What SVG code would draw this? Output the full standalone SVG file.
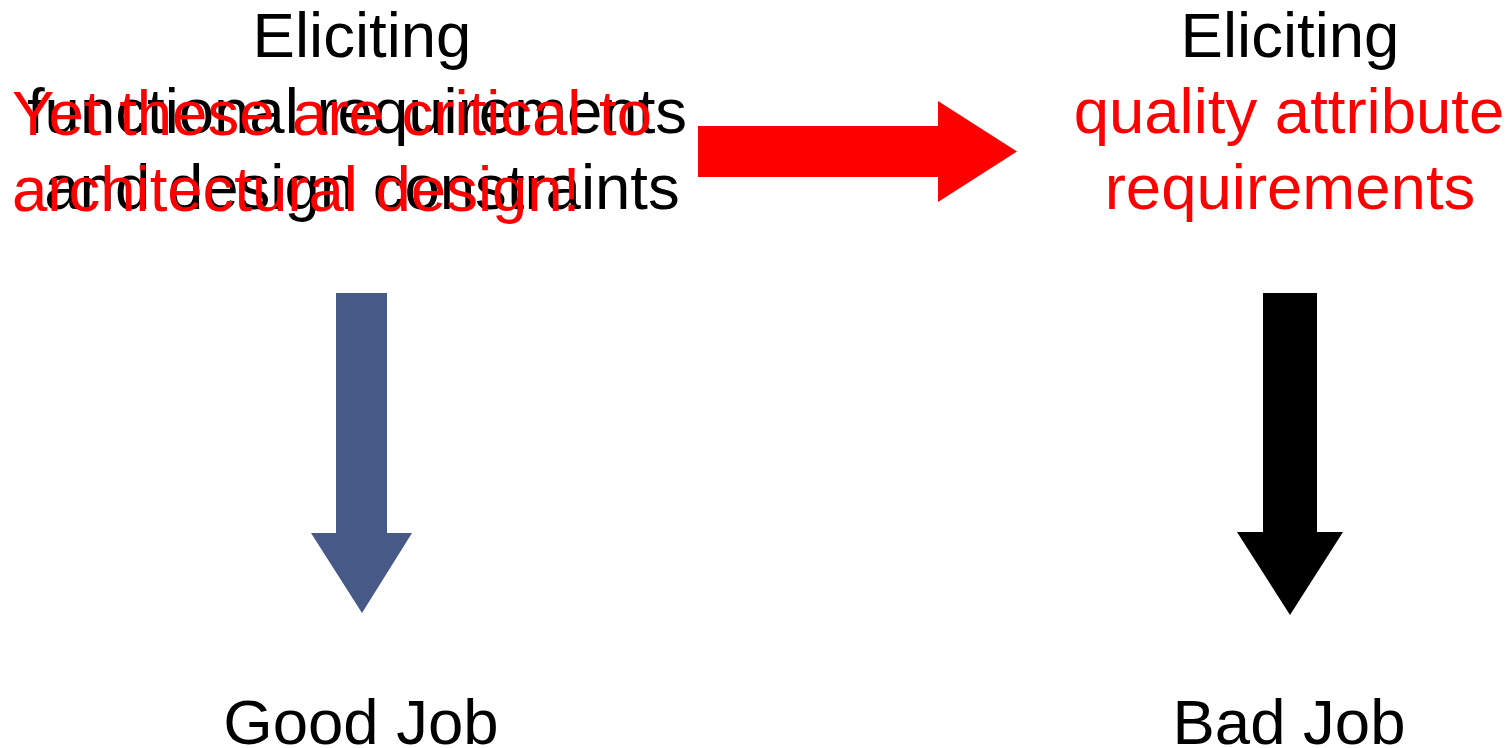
<svg xmlns="http://www.w3.org/2000/svg" width="1511" height="748" viewBox="0 0 1511 748">
  <style>
    text { font-family: "Liberation Sans", Arial, sans-serif; font-size: 63.5px; }
    .c { text-anchor: middle; }
    .blk { fill: #000000; }
    .red { fill: #FF0000; }
  </style>
  <rect x="0" y="0" width="1511" height="748" fill="#FFFFFF"/>

  <!-- left: functional requirements -->
  <g id="node-functional">
    <text class="c blk" x="362" y="57">Eliciting</text>
    <text class="c blk" x="357" y="133">functional requirements</text>
    <text class="c blk" x="362" y="209">and design constraints</text>
  </g>

  <!-- overlaid remark -->
  <g id="node-remark">
    <text class="red" x="12" y="135">Yet these are critical to</text>
    <text class="red" x="12" y="211">architectural design!</text>
  </g>

  <!-- right: quality attribute requirements -->
  <g id="node-quality">
    <text class="c blk" x="1290" y="57">Eliciting</text>
    <text class="c red" x="1289" y="133">quality attribute</text>
    <text class="c red" x="1290" y="209">requirements</text>
  </g>

  <g id="node-good">
    <text class="c blk" x="361" y="744">Good Job</text>
  </g>
  <g id="node-bad">
    <text class="c blk" x="1289" y="744">Bad Job</text>
  </g>

  <!-- block arrows -->
  <g id="connectors">
    <polygon points="698,126 938,126 938,101 1017,151.5 938,202 938,177 698,177" fill="#FF0000"/>
    <polygon points="336,293 387,293 387,533 412,533 362,613 311,533 336,533" fill="#475A87"/>
    <polygon points="1263,293 1317,293 1317,532 1343,532 1290,615 1237,532 1263,532" fill="#000000"/>
  </g>
</svg>
